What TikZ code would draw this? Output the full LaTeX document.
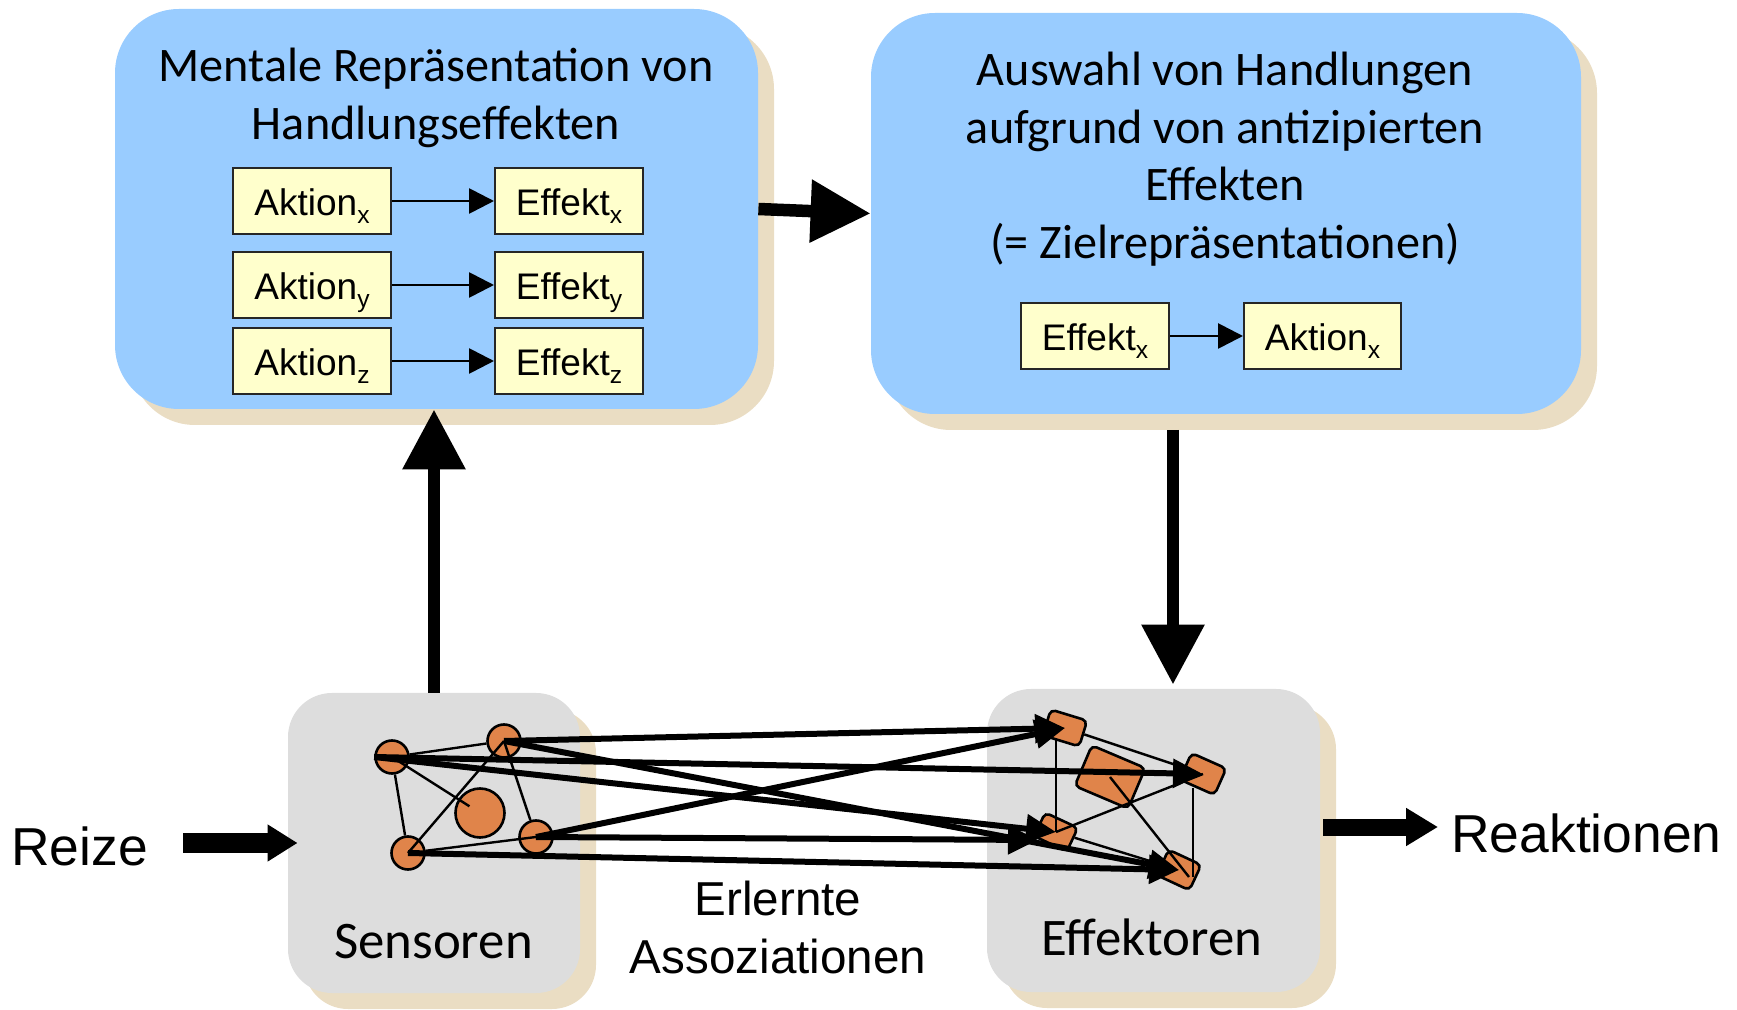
\documentclass[tikz,border=0pt]{standalone}
\usepackage{fontspec}
\setmainfont{Carlito}
\newfontfamily\arialf{Liberation Sans}
\usetikzlibrary{arrows.meta,shadows,calc}
\definecolor{boxblue}{HTML}{99CCFF}
\definecolor{shtan}{HTML}{EADDC3}
\definecolor{boxgray}{HTML}{DDDDDD}
\definecolor{ylw}{HTML}{FFFFCC}
\definecolor{org}{HTML}{E0844A}
\newcommand\sbx[1]{\raisebox{-4pt}{\fontsize{12.3pt}{12.3pt}\selectfont #1}}
\begin{document}
\begin{tikzpicture}[x=0.5pt,y=-0.5pt,
  shad/.style={drop shadow={shadow xshift=8pt,shadow yshift=-8pt,fill=shtan,opacity=1}},
  bluebox/.style={fill=boxblue,rounded corners=32pt,inner sep=0pt,shad},
  graybox/.style={fill=boxgray,rounded corners=22pt,inner sep=0pt,shad},
  titletext/.style={font=\fontsize{24.1pt}{28.75pt}\selectfont,align=center,inner sep=0pt},
  smallbox/.style={draw=black!85,line width=1pt,fill=ylw,minimum height=33pt,
    font=\arialf\fontsize{18.5pt}{18.5pt}\selectfont,text height=15pt,text depth=0pt,inner sep=0pt},
  sensnode/.style={circle,draw=black,line width=1.3pt,fill=org,inner sep=0pt,minimum size=16.5pt},
  effnode/.style={rectangle,draw=black,line width=1.3pt,fill=org,inner sep=0pt,rounded corners=2.5pt},
  netline/.style={line width=1.2pt},
  thinarr/.style={line width=1.4pt,-{Triangle[length=12.5pt,width=12.5pt]}},
  netarr/.style={line width=3pt,-{Triangle[length=15pt,width=14pt]}},
  bigarr/.style={line width=6.25pt,-{Triangle[length=30pt,width=30pt]}},
  inarr/.style={line width=10pt,-{Triangle[length=15pt,width=17.5pt]}},
  outarr/.style={line width=8.5pt,-{Triangle[length=16pt,width=18pt]}},
  labtext/.style={font=\arialf\fontsize{26.7pt}{26.7pt}\selectfont,inner sep=0pt},
  unitlab/.style={font=\fontsize{26.4pt}{26.4pt}\selectfont,inner sep=0pt,anchor=base}
]
\useasboundingbox (0,0) rectangle (1737,1010);

% big boxes
\node[bluebox,minimum width=321.5pt,minimum height=200pt] (b1) at (436.5,209) {};
\node[bluebox,minimum width=355pt,minimum height=200.5pt] (b2) at (1226,213.5) {};
\node[graybox,minimum width=146pt,minimum height=150pt] (sens) at (434,843) {};
\node[graybox,minimum width=166.5pt,minimum height=151.5pt] (eff) at (1153.5,840.5) {};

% titles
\node[titletext] (t1) at (436,98) {Mentale Repräsentation von\\Handlungseffekten};
\node[titletext] (t2) at (1225,159) {Auswahl von Handlungen\\aufgrund von antizipierten\\Effekten\\(= Zielrepräsentationen)};

% small boxes in box 1
\node[smallbox,minimum width=79pt] (ax) at (312,201) {Aktion\sbx{x}};
\node[smallbox,minimum width=74pt] (ex) at (569,201) {Effekt\sbx{x}};
\node[smallbox,minimum width=79pt] (ay) at (312,285) {Aktion\sbx{y}};
\node[smallbox,minimum width=74pt] (ey) at (569,285) {Effekt\sbx{y}};
\node[smallbox,minimum width=79pt] (az) at (312,361) {Aktion\sbx{z}};
\node[smallbox,minimum width=74pt] (ez) at (569,361) {Effekt\sbx{z}};
\draw[thinarr] (ax) -- (ex);
\draw[thinarr] (ay) -- (ey);
\draw[thinarr] (az) -- (ez);

% small boxes in box 2
\node[smallbox,minimum width=74pt] (ex2) at (1095,336) {Effekt\sbx{x}};
\node[smallbox,minimum width=78.5pt] (ax2) at (1322.5,336) {Aktion\sbx{x}};
\draw[thinarr] (ex2) -- (ax2);

% labels
\node[unitlab] (senslab) at (433.5,958) {Sensoren};
\node[unitlab] (efflab) at (1152,955) {Effektoren};
\node[labtext,anchor=base west] (reize) at (11,865) {Reize};
\node[labtext,anchor=base west] (reak) at (1451,852) {Reaktionen};
\node[font=\arialf\fontsize{23.8pt}{29pt}\selectfont,align=center,inner sep=0pt] (assoc) at (778,927) {Erlernte\\Assoziationen};

% sensor network
\node[sensnode] (S1) at (392,757) {};
\node[sensnode] (S2) at (504,741) {};
\node[sensnode,minimum size=24.5pt] (S3) at (480,813) {};
\node[sensnode] (S4) at (536,837) {};
\node[sensnode] (S5) at (408,853) {};
\draw[netline] (S1) -- (S2);
\draw[netline] (S1) -- (S5);
\draw[netline] (S1.center) -- ($(S3.center)!0.12!(S1.center)$);
\draw[netline] (S5.center) -- (S2.center);
\draw[netline] (S2.center) -- (S4);
\draw[netline] (S5) -- (S4.center);

% effector network
\node[effnode,minimum width=19pt,minimum height=13.5pt,rotate=-17] (E1) at (1065,728) {};
\node[effnode,minimum width=19pt,minimum height=14.5pt,rotate=-24] (E2) at (1203,774) {};
\node[effnode,minimum width=29pt,minimum height=22pt,rotate=-23] (E3) at (1110,777) {};
\node[effnode,minimum width=18pt,minimum height=13pt,rotate=-25] (E4) at (1056,832) {};
\node[effnode,minimum width=18pt,minimum height=14pt,rotate=-25] (E5) at (1179,870) {};
\draw[netline] (E1) -- (E2);
\draw[netline] (E4.center) -- ($(E4.center |- E1.center)+(0,12)$);
\draw[netline] ($(E2.center)+(-10,14)$) -- ($(E5.center)+(14,7)$);
\draw[netline] (E3.center) -- ($(E5.center)+(10,7)$);
\draw[netline] (E4.center) -- (E2.center);
\draw[netline] (E4) -- (E5);

% learned associations
\draw[netarr] (S2.center) -- (E1.center);
\draw[netarr] (S4.center) -- (E1.center);
\draw[netarr] (S1.west) -- (E2.center);
\draw[netarr] (S1.west) -- (E4.center);
\draw[netarr] (S4.center) -- ($(E4.center)+(-18,8)$);
\draw[netarr] (S2.center) -- (E5.center);
\draw[netarr] (S5.center) -- (E5.center);

% big arrows
\draw[bigarr] (b1.east) -- (b2.west);
\draw[bigarr] (sens.north) -- (sens.north |- b1.south);
\coordinate (dA) at (1173,430);
\draw[bigarr,shorten >=2pt] (dA) -- (dA |- eff.north);
\coordinate (rzA) at (183,843);
\draw[inarr] (rzA) -- ([xshift=5pt]sens.west);
\coordinate (rkA) at (1323,827);
\coordinate (rkB) at (1438,827);
\draw[outarr] (rkA) -- (rkB);
\end{tikzpicture}
\end{document}
